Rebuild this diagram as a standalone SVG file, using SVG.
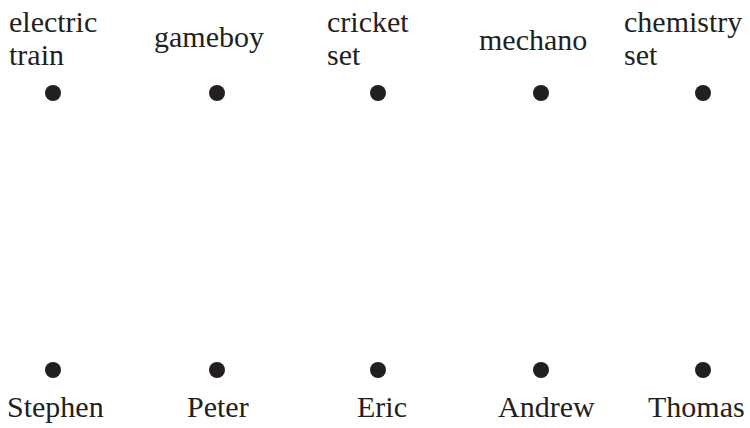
<svg xmlns="http://www.w3.org/2000/svg" width="750" height="428" viewBox="0 0 750 428">
<style>
text{font-family:'Liberation Serif','Times New Roman',Times,serif;font-size:30px;fill:#231f20}
.dot{fill:#231f20}
</style>
<rect width="750" height="428" fill="#fff"/>
<g id="electric-train"><text x="9" y="32">electric</text><text x="9" y="65">train</text><circle class="dot" cx="53" cy="93" r="8"/></g>
<g id="gameboy"><text x="154" y="47">gameboy</text><circle class="dot" cx="217" cy="93" r="8"/></g>
<g id="cricket-set"><text x="327" y="32">cricket</text><text x="327" y="65">set</text><circle class="dot" cx="378" cy="93" r="8"/></g>
<g id="mechano"><text x="479" y="50">mechano</text><circle class="dot" cx="541" cy="93" r="8"/></g>
<g id="chemistry-set"><text x="624" y="32">chemistry</text><text x="624" y="65">set</text><circle class="dot" cx="703" cy="93" r="8"/></g>
<g id="stephen"><circle class="dot" cx="53" cy="370" r="8"/><text x="7" y="417">Stephen</text></g>
<g id="peter"><circle class="dot" cx="217" cy="370" r="8"/><text x="187" y="417">Peter</text></g>
<g id="eric"><circle class="dot" cx="378" cy="370" r="8"/><text x="357" y="417">Eric</text></g>
<g id="andrew"><circle class="dot" cx="541" cy="370" r="8"/><text x="498" y="417">Andrew</text></g>
<g id="thomas"><circle class="dot" cx="703" cy="370" r="8"/><text x="648" y="417">Thomas</text></g>
<g id="connectors"></g>
</svg>
